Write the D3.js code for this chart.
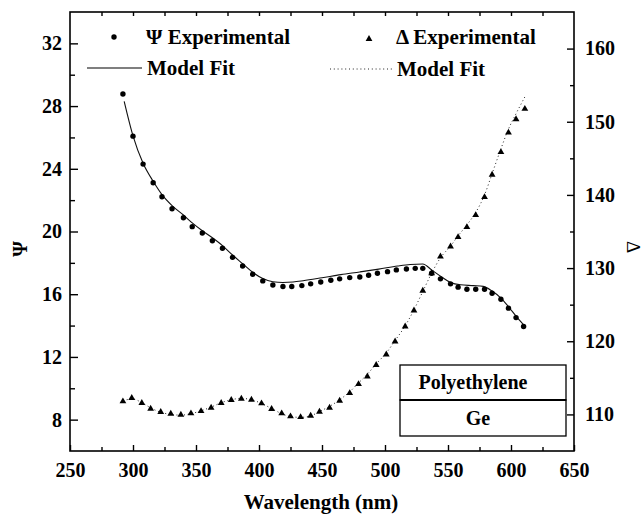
<!DOCTYPE html>
<html><head><meta charset="utf-8">
<script src="https://cdn.jsdelivr.net/npm/d3@7"></script>
<style>
html,body{margin:0;padding:0;background:#fff;}
svg{display:block;font-family:"Liberation Serif","Times New Roman",serif;font-weight:bold;}
</style></head>
<body><svg id="c" width="644" height="517"></svg>
<script>
// ---- data ----
const xTicks = [250, 300, 350, 400, 450, 500, 550, 600, 650];
const psiTicks = [8, 12, 16, 20, 24, 28, 32];
const deltaTicks = [110, 120, 130, 140, 150, 160];

const psiWl = [292,300,308,316,323,331,340,347,355,363,371,379,387,395,403,411,419,426,434,441,449,457,464,472,480,487,494,502,509,517,524,530,537,544,552,558,565,572,579,585,592,598,604,610];
const psiExp = [28.77,26.08,24.3,23.11,22.22,21.45,20.88,20.31,19.90,19.41,18.93,18.35,17.80,17.27,16.85,16.59,16.49,16.49,16.55,16.66,16.78,16.89,16.98,17.06,17.10,17.21,17.34,17.44,17.55,17.61,17.65,17.65,17.34,16.98,16.66,16.45,16.32,16.32,16.32,16.06,15.68,15.11,14.51,13.94];

const psiFitWl = [293,300,308,316,323,331,340,347,355,363,371,379,387,395,403,411,419,427,435,450,465,480,495,510,520,530,537,545,552,560,570,578,585,592,598,604,610];
const psiFit = [28.3,26.1,24.35,23.2,22.35,21.65,21.05,20.55,20.05,19.6,19.1,18.5,17.95,17.4,17.0,16.8,16.75,16.78,16.86,17.05,17.25,17.42,17.6,17.8,17.9,17.93,17.55,17.1,16.75,16.6,16.55,16.5,16.2,15.75,15.2,14.6,14.05];

const deltaWl = [292,299,307,314,322,330,338,346,354,362,370,378,386,394,402,410,418,425,433,441,448,456,464,472,479,486,493,501,508,516,523,530,537,544,552,558,565,572,579,585,592,598,604,611];
const deltaExp = [111.78,112.24,111.56,110.78,110.33,110.10,109.96,110.14,110.46,110.92,111.56,111.97,112.15,112.01,111.51,110.74,110.14,109.73,109.64,109.82,110.37,110.92,111.87,112.92,114.15,115.19,116.75,118.20,119.97,122.02,124.21,126.90,129.3,131.58,132.95,134.23,135.60,137.24,139.70,142.75,145.85,148.52,150.35,151.76];

const deltaFitWl = [292,300,307,315,322,330,338,346,354,362,370,378,386,394,402,410,418,425,433,441,448,456,464,472,479,486,493,501,508,516,523,530,537,544,552,558,565,572,579,585,592,598,604,611];
const deltaFit = [111.9,112.1,111.6,110.8,110.3,110.0,109.9,110.1,110.5,111.0,111.6,112.0,112.2,112.0,111.5,110.8,110.1,109.7,109.6,109.8,110.4,111.1,112.0,113.1,114.3,115.5,116.9,118.4,120.1,122.1,124.3,126.8,129.3,131.4,133.0,134.4,135.9,137.6,140.0,142.9,146.3,149.0,151.1,153.4];

const legendLabels = ["\u03A8 Experimental", "Model Fit", "\u0394 Experimental", "Model Fit"];
const layerLabels = ["Polyethylene", "Ge"];

// ---- chart ----
const svg = d3.select("#c");
const L = 70, R = 574, T = 12, B = 451;
const x = d3.scaleLinear().domain([250, 650]).range([L, R]);
const yL = d3.scaleLinear().domain([6, 34]).range([B, T]);
const yR = d3.scaleLinear().domain([105, 165]).range([B, T]);
const FS = 20;

function styleAxis(g) {
  g.select(".domain").remove();
  g.selectAll(".tick line").attr("stroke", "#000").attr("stroke-width", 1.4);
  g.selectAll("text").attr("font-size", FS).attr("font-family", "Liberation Serif").attr("font-weight", "bold").attr("fill", "#000");
}

// minor ticks
const xMinor = d3.range(275, 650, 50);
const psiMinor = d3.range(10, 34, 4);
const deltaMinor = d3.range(115, 165, 10);

svg.append("g").attr("transform", `translate(0,${B})`)
  .call(d3.axisBottom(x).tickValues(xTicks).tickSize(-6).tickPadding(12).tickFormat(d3.format("d"))).call(styleAxis);
svg.append("g").attr("transform", `translate(0,${B})`)
  .call(d3.axisBottom(x).tickValues(xMinor).tickSize(-4).tickFormat("")).call(styleAxis);
svg.append("g").attr("transform", `translate(0,${T})`)
  .call(d3.axisTop(x).tickValues(d3.range(275, 650, 25)).tickSize(-4).tickFormat("")).call(styleAxis);

svg.append("g").attr("transform", `translate(${L},0)`)
  .call(d3.axisLeft(yL).tickValues(psiTicks).tickSize(-8).tickPadding(8)).call(styleAxis);
svg.append("g").attr("transform", `translate(${L},0)`)
  .call(d3.axisLeft(yL).tickValues(psiMinor).tickSize(-5).tickFormat("")).call(styleAxis);

svg.append("g").attr("transform", `translate(${R},0)`)
  .call(d3.axisRight(yR).tickValues(deltaTicks).tickSize(-7).tickPadding(11)).call(styleAxis);
svg.append("g").attr("transform", `translate(${R},0)`)
  .call(d3.axisRight(yR).tickValues(deltaMinor).tickSize(-4).tickFormat("")).call(styleAxis);

// frame
svg.append("rect").attr("x", L).attr("y", T).attr("width", R - L).attr("height", B - T)
  .attr("fill", "none").attr("stroke", "#000").attr("stroke-width", 1.6);

// axis titles
svg.append("text").attr("x", 321).attr("y", 509).attr("text-anchor", "middle")
  .attr("font-size", 21).text("Wavelength (nm)");
svg.append("text").attr("transform", "translate(20,249) rotate(-90)").attr("text-anchor", "middle")
  .attr("dominant-baseline", "central").attr("font-size", 20).text("\u03A8");
svg.append("text").attr("transform", "translate(633,247) rotate(90)").attr("text-anchor", "middle")
  .attr("dominant-baseline", "central").attr("font-size", 19).attr("font-weight", "normal").text("\u0394");

// fit lines
const psiLine = d3.line().x((d, i) => x(psiFitWl[i])).y(d => yL(d)).curve(d3.curveMonotoneX);
svg.append("path").attr("d", psiLine(psiFit)).attr("fill", "none").attr("stroke", "#111").attr("stroke-width", 1.1);

const deltaLine = d3.line().x((d, i) => x(deltaFitWl[i])).y(d => yR(d)).curve(d3.curveMonotoneX);
svg.append("path").attr("d", deltaLine(deltaFit)).attr("fill", "none").attr("stroke", "#222")
  .attr("stroke-width", 1).attr("stroke-dasharray", "1,2.8");

// points
svg.append("g").selectAll("circle").data(psiExp).join("circle")
  .attr("cx", (d, i) => x(psiWl[i])).attr("cy", d => yL(d)).attr("r", 2.7).attr("fill", "#000");

const tri = d3.symbol().type(d3.symbolTriangle).size(20);
svg.append("g").selectAll("path").data(deltaExp).join("path")
  .attr("transform", (d, i) => `translate(${x(deltaWl[i])},${yR(d)})`).attr("d", tri).attr("fill", "#000");

// legend
const lg = svg.append("g").attr("font-size", 21);
lg.append("circle").attr("cx", 114).attr("cy", 37).attr("r", 2.7).attr("fill", "#000");
lg.append("text").attr("x", 146).attr("y", 44).text(legendLabels[0]);
lg.append("line").attr("x1", 87).attr("x2", 142).attr("y1", 68).attr("y2", 68).attr("stroke", "#000").attr("stroke-width", 1.2);
lg.append("text").attr("x", 147).attr("y", 75).text(legendLabels[1]);
lg.append("path").attr("transform", "translate(369,39)").attr("d", tri).attr("fill", "#000");
lg.append("text").attr("x", 396).attr("y", 44).text(legendLabels[2]);
lg.append("line").attr("x1", 330).attr("x2", 392).attr("y1", 69).attr("y2", 69).attr("stroke", "#222")
  .attr("stroke-width", 1).attr("stroke-dasharray", "1,2.8");
lg.append("text").attr("x", 397).attr("y", 76).text(legendLabels[3]);

// layer inset
const box = svg.append("g");
box.append("rect").attr("x", 400).attr("y", 365).attr("width", 166).attr("height", 35)
  .attr("fill", "#fff").attr("stroke", "#000").attr("stroke-width", 1.3);
box.append("rect").attr("x", 400).attr("y", 400).attr("width", 166).attr("height", 36)
  .attr("fill", "#fff").attr("stroke", "#000").attr("stroke-width", 1.3);
box.append("line").attr("x1", 400).attr("x2", 566).attr("y1", 400).attr("y2", 400).attr("stroke", "#000").attr("stroke-width", 2);
box.append("text").attr("x", 473).attr("y", 389).attr("text-anchor", "middle").attr("font-size", 20).text(layerLabels[0]);
box.append("text").attr("x", 478).attr("y", 425).attr("text-anchor", "middle").attr("font-size", 20).text(layerLabels[1]);
</script></body></html>
